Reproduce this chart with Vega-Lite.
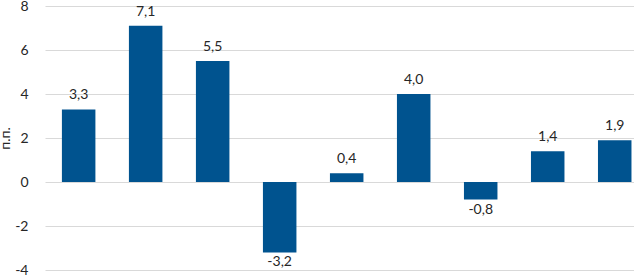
{
  "$schema": "https://vega.github.io/schema/vega-lite/v6.json",
  "autosize": {"type": "none"},
  "width": 589,
  "height": 264,
  "padding": {"left": 45, "top": 6, "right": 0, "bottom": 5},
  "config": {
    "view": {"stroke": null},
    "locale": {"number": {"decimal": ",", "thousands": " ", "grouping": [3], "currency": ["", ""], "minus": "-"}},
    "font": "Lato"
  },
  "data": {"values": [
    {"i": 1, "v": 3.3},
    {"i": 2, "v": 7.1},
    {"i": 3, "v": 5.5},
    {"i": 4, "v": -3.2},
    {"i": 5, "v": 0.4},
    {"i": 6, "v": 4.0},
    {"i": 7, "v": -0.8},
    {"i": 8, "v": 1.4},
    {"i": 9, "v": 1.9}
  ]},
  "encoding": {
    "x": {"field": "i", "type": "ordinal", "axis": null,
          "scale": {"paddingInner": 0.5, "paddingOuter": 0.145, "align": 0.87}},
    "y": {"field": "v", "type": "quantitative",
          "scale": {"domain": [-4, 8], "nice": false, "zero": false},
          "axis": {"values": [-4, -2, 0, 2, 4, 6, 8], "title": "п.п.", "domain": false, "ticks": false,
                   "labelPadding": 17, "labelFontSize": 14, "labelColor": "#262626", "labelFont": "Lato",
                   "titleFontSize": 14, "titleFontWeight": "normal", "titleColor": "#262626", "titlePadding": 2, "titleFont": "Lato",
                   "gridColor": "#d9d9d9", "gridWidth": 1, "format": "d"}}
  },
  "layer": [
    {"mark": {"type": "bar", "color": "#00538f"}},
    {"transform": [{"filter": "datum.v >= 0"}],
     "mark": {"type": "text", "baseline": "bottom", "dy": -7, "fontSize": 14, "color": "#262626"},
     "encoding": {"text": {"field": "v", "type": "quantitative", "format": ".1f"}}},
    {"transform": [{"filter": "datum.v < 0"}],
     "mark": {"type": "text", "baseline": "top", "dy": 3, "fontSize": 14, "color": "#262626"},
     "encoding": {"text": {"field": "v", "type": "quantitative", "format": ".1f"}}}
  ]
}
